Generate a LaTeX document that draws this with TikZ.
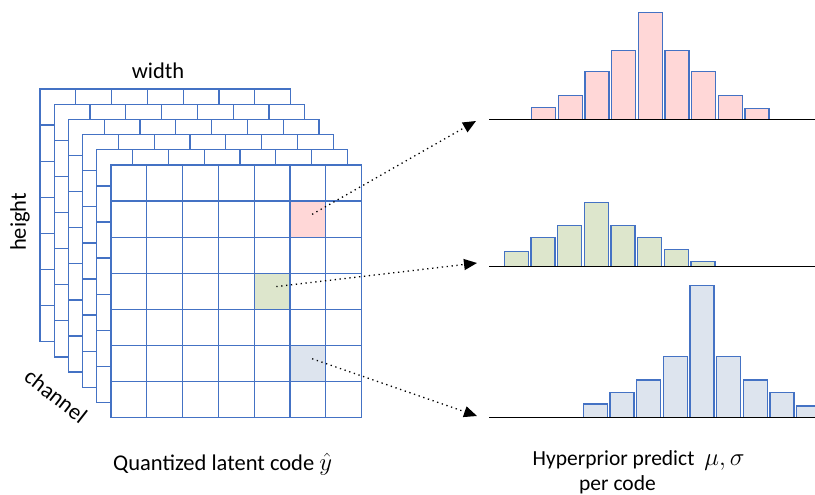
\documentclass[tikz,border=0pt]{standalone}
\usepackage{fontspec}
\setmainfont{Carlito}
\usetikzlibrary{arrows.meta}
\definecolor{gridblue}{RGB}{68,114,196}
\definecolor{pinkfill}{RGB}{255,215,215}
\definecolor{greenfill}{RGB}{221,230,204}
\definecolor{bluefill}{RGB}{221,228,238}
\begin{document}
\begin{tikzpicture}[x=1pt,y=-1pt,
  gridline/.style={draw=gridblue,line width=1.25pt},
  bar/.style={draw=gridblue,line width=1.3pt},
  axisline/.style={draw=black,line width=1.4pt},
  lbl/.style={inner sep=0pt,font=\fontsize{22.5}{27}\selectfont},
  rlbl/.style={inner sep=0pt,font=\fontsize{21.5}{26}\selectfont},
  link/.style={black,line width=1.3pt,dash pattern=on 1.3pt off 3.6pt,
    -{Triangle[length=13pt,width=11pt]}},
  cell/.style={draw=none,inner sep=0pt,minimum width=35.8pt,minimum height=36.1pt}]
\useasboundingbox (0,0) rectangle (815,495);
\clip (0,0) rectangle (815,495);
\def\cw{35.8}
\def\ch{36.1}
% back layers
\foreach \k in {5,4,3,2,1} {
  \pgfmathsetmacro\ox{111-14.2*\k}
  \pgfmathsetmacro\oy{165-15.2*\k}
  \begin{scope}[shift={(\ox,\oy)}]
    \filldraw[gridline,fill=white] (0,0) rectangle (7*\cw,7*\ch);
    \foreach \i in {1,...,6} {
      \draw[gridline] (\i*\cw,0) -- (\i*\cw,7*\ch);
      \draw[gridline] (0,\i*\ch) -- (7*\cw,\i*\ch);
    }
  \end{scope}
}
% front layer
\begin{scope}[shift={(111,165)}]
  \fill[white] (0,0) rectangle (7*\cw,7*\ch);
  \node[cell,fill=pinkfill,anchor=north west] (cpink) at (5*\cw,1*\ch) {};
  \node[cell,fill=greenfill,anchor=north west] (cgreen) at (4*\cw,3*\ch) {};
  \node[cell,fill=bluefill,anchor=north west] (cblue) at (5*\cw,5*\ch) {};
  \draw[gridline] (0,0) rectangle (7*\cw,7*\ch);
  \foreach \i in {1,...,6} {
    \draw[gridline] (\i*\cw,0) -- (\i*\cw,7*\ch);
    \draw[gridline] (0,\i*\ch) -- (7*\cw,\i*\ch);
  }
\end{scope}
% labels
\node[lbl] (wlab) at (158,71) {width};
\node[lbl,rotate=90] (hlab) at (20,222) {height};
\node[lbl,rotate=-38] (clab) at (56,396) {channel};
\node[lbl,anchor=base west] (qlab) at (113,470) {Quantized latent code {\fontsize{29}{30}\selectfont$\hat{y}$}};
\node[rlbl,anchor=base west] (hplab) at (532.5,465) {Hyperprior predict\hspace{10pt}{\fontsize{28}{30}\selectfont$\mu,\sigma$}};
\node[rlbl,anchor=base west] (pclab) at (579,490) {per code};
% histograms
\foreach \t [count=\i from 0] in {107.3,95.7,71.7,50.3,12.3,50.3,71.7,95.7,108.3}
  \filldraw[bar,fill=pinkfill] (531.7+\i*26.67,119.3) rectangle (555.7+\i*26.67,\t);
\foreach \t [count=\i from 0] in {251.7,237.7,225.7,202.3,225.7,237.7,249.7,261.3}
  \filldraw[bar,fill=greenfill] (504.3+\i*26.67,266.7) rectangle (528.3+\i*26.67,\t);
\foreach \t [count=\i from 0] in {404,392.3,380,356.7,285.3,356.7,380,392.3,406}
  \filldraw[bar,fill=bluefill] (583.3+\i*26.67,417.7) rectangle (607.3+\i*26.67,\t);
\coordinate (a1s) at (489,119.5);
\coordinate (a1e) at (815,119.5);
\coordinate (a2s) at (489,266.7);
\coordinate (a2e) at (815,266.7);
\coordinate (a3s) at (489,417.7);
\coordinate (a3e) at (815,417.7);
\draw[axisline] (a1s) -- (a1e);
\draw[axisline] (a2s) -- (a2e);
\draw[axisline] (a3s) -- (a3e);
% connectors
\coordinate (p1) at ([shift={(4,-5)}]cpink.center);
\coordinate (p2) at ([shift={(4,-5)}]cgreen.center);
\coordinate (p3) at ([shift={(4,-5)}]cblue.center);
\coordinate (t1) at (476,121);
\coordinate (t2) at (477,263);
\coordinate (t3) at (477,416);
\draw[link] (p1) -- (t1);
\draw[link] (p2) -- (t2);
\draw[link] (p3) -- (t3);
\end{tikzpicture}
\end{document}
